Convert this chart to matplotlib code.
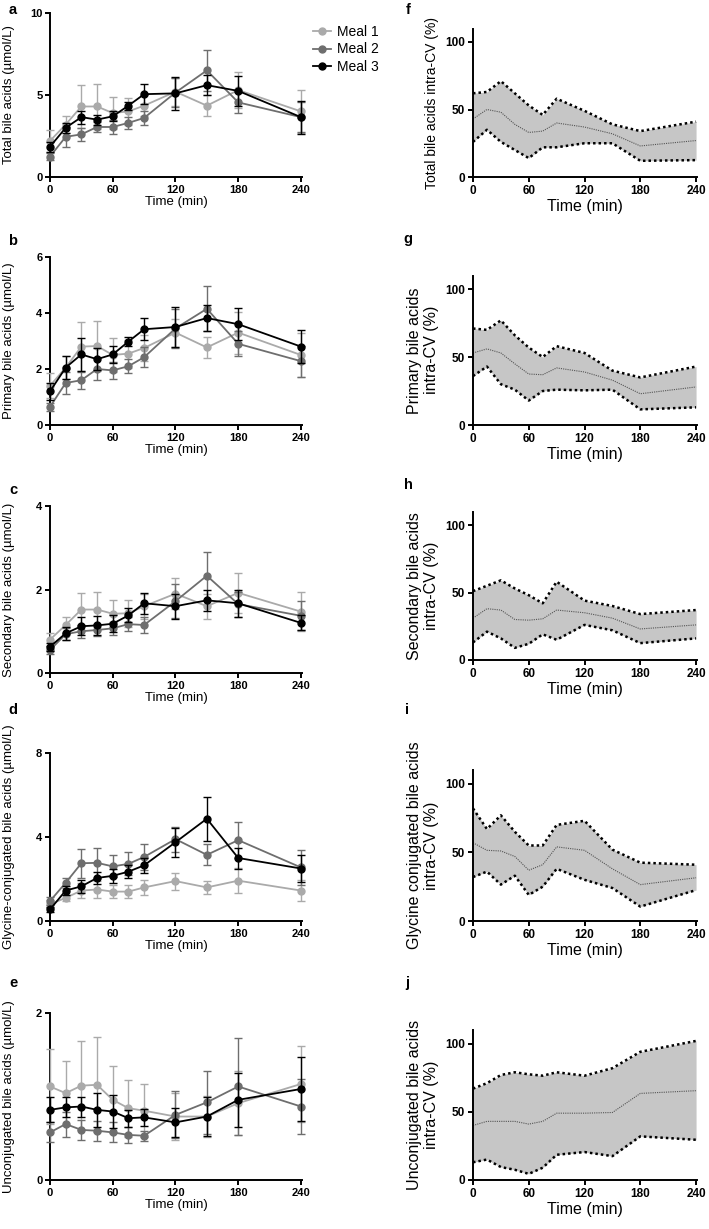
import matplotlib
matplotlib.use("Agg")
import matplotlib.pyplot as plt
from matplotlib.lines import Line2D

plt.rcParams['font.family'] = ['Liberation Sans', 'DejaVu Sans']

# ---------------- data ----------------
time = [0, 15, 30, 45, 60, 75, 90, 120, 150, 180, 240]
meal_names = ["Meal 1", "Meal 2", "Meal 3"]
meal_colors = ["#aaaaaa", "#6e6e6e", "#000000"]

total_m1 = [2.2, 3.2, 4.3, 4.3, 3.9, 4.0, 4.35, 5.2, 4.35, 5.3, 4.0]
total_m1_err = [0.65, 0.5, 1.3, 1.35, 0.95, 0.8, 0.65, 0.85, 0.65, 1.1, 1.3]
total_m2 = [1.25, 2.45, 2.6, 3.05, 3.05, 3.3, 3.6, 5.15, 6.5, 4.55, 3.65]
total_m2_err = [0.2, 0.6, 0.4, 0.3, 0.4, 0.35, 0.4, 0.9, 1.25, 0.65, 0.9]
total_m3 = [1.85, 3.0, 3.65, 3.5, 3.7, 4.35, 5.05, 5.1, 5.6, 5.25, 3.65]
total_m3_err = [0.3, 0.3, 0.4, 0.3, 0.3, 0.25, 0.6, 1.0, 0.6, 0.9, 1.0]

prim_m1 = [1.4, 2.05, 2.8, 2.82, 2.5, 2.55, 2.75, 3.3, 2.77, 3.3, 2.5]
prim_m1_err = [0.45, 0.4, 0.88, 0.88, 0.62, 0.5, 0.45, 0.5, 0.38, 0.75, 0.8]
prim_m2 = [0.65, 1.5, 1.6, 2.0, 1.95, 2.1, 2.42, 3.45, 4.15, 2.9, 2.28]
prim_m2_err = [0.15, 0.4, 0.3, 0.4, 0.3, 0.25, 0.35, 0.7, 0.8, 0.45, 0.55]
prim_m3 = [1.2, 2.05, 2.52, 2.35, 2.52, 2.98, 3.42, 3.5, 3.82, 3.6, 2.8]
prim_m3_err = [0.3, 0.4, 0.6, 0.4, 0.3, 0.15, 0.4, 0.72, 0.45, 0.57, 0.58]

sec_m1 = [0.8, 1.15, 1.52, 1.52, 1.42, 1.43, 1.6, 1.9, 1.6, 1.92, 1.47]
sec_m1_err = [0.15, 0.18, 0.4, 0.42, 0.32, 0.33, 0.3, 0.37, 0.3, 0.48, 0.47]
sec_m2 = [0.55, 0.93, 1.0, 1.03, 1.07, 1.17, 1.15, 1.72, 2.33, 1.65, 1.37]
sec_m2_err = [0.1, 0.15, 0.15, 0.15, 0.15, 0.17, 0.18, 0.4, 0.57, 0.3, 0.35]
sec_m3 = [0.63, 0.95, 1.12, 1.14, 1.18, 1.38, 1.67, 1.6, 1.74, 1.67, 1.2]
sec_m3_err = [0.1, 0.15, 0.22, 0.22, 0.2, 0.17, 0.25, 0.3, 0.25, 0.32, 0.18]

gly_m1 = [0.8, 1.1, 1.45, 1.5, 1.4, 1.4, 1.6, 1.9, 1.6, 1.92, 1.45]
gly_m1_err = [0.2, 0.15, 0.35, 0.4, 0.3, 0.3, 0.35, 0.4, 0.3, 0.6, 0.5]
gly_m2 = [0.95, 1.82, 2.75, 2.77, 2.6, 2.72, 3.05, 3.9, 3.15, 3.85, 2.55]
gly_m2_err = [0.2, 0.25, 0.7, 0.7, 0.52, 0.55, 0.6, 0.6, 0.5, 0.85, 0.85]
gly_m3 = [0.55, 1.45, 1.65, 2.05, 2.15, 2.35, 2.65, 3.75, 4.87, 3.0, 2.5]
gly_m3_err = [0.1, 0.2, 0.3, 0.3, 0.35, 0.3, 0.35, 0.7, 1.05, 0.5, 0.65]

unc_m1 = [1.12, 1.04, 1.13, 1.14, 0.96, 0.86, 0.83, 0.76, 0.76, 0.92, 1.15]
unc_m1_err = [0.45, 0.38, 0.53, 0.57, 0.4, 0.34, 0.32, 0.28, 0.25, 0.38, 0.45]
unc_m2 = [0.57, 0.67, 0.6, 0.59, 0.57, 0.54, 0.53, 0.78, 0.93, 1.12, 0.88]
unc_m2_err = [0.12, 0.15, 0.12, 0.12, 0.12, 0.1, 0.06, 0.28, 0.38, 0.58, 0.33]
unc_m3 = [0.84, 0.87, 0.88, 0.84, 0.82, 0.74, 0.75, 0.69, 0.76, 0.96, 1.09]
unc_m3_err = [0.15, 0.12, 0.12, 0.2, 0.2, 0.1, 0.1, 0.17, 0.23, 0.32, 0.38]

# intra-individual CV (%): upper bound, mean, lower bound
cv_total_upper = [62, 63, 71, 62, 53, 46, 58, 49, 39, 34, 41]
cv_total_mean = [43, 50, 48, 39, 33, 34, 40, 37, 32, 23, 27]
cv_total_lower = [26, 35, 26, 20, 14, 22, 22, 25, 25, 12, 12.5]

cv_prim_upper = [71, 70, 77, 66, 57, 50, 58, 53, 40, 35, 43]
cv_prim_mean = [53, 56, 53, 45, 37.5, 37, 42, 39, 33, 23, 28]
cv_prim_lower = [36, 43, 30, 26, 18, 25, 26, 25.5, 26, 11.5, 13]

cv_sec_upper = [51, 55, 59, 53, 48, 42, 58, 44, 40, 34, 37]
cv_sec_mean = [31, 38, 37, 30, 29.5, 30.5, 37, 35, 31, 23, 26]
cv_sec_lower = [13, 21, 16, 9, 12, 19, 15, 26, 22, 12.5, 16]

cv_gly_upper = [82, 67, 77, 65, 55, 55, 70, 73, 52, 42.5, 41]
cv_gly_mean = [57, 51.5, 51, 47, 37, 41, 54, 51.5, 38, 26.5, 31.5]
cv_gly_lower = [32, 36, 26.5, 33, 19, 25, 38, 30, 24, 10.5, 22.5]

cv_unc_upper = [67, 71, 77, 79, 77.5, 76.5, 79, 76.5, 82, 94, 102]
cv_unc_mean = [40, 43, 43, 43, 41, 43, 49, 49, 49.5, 63.5, 65.5]
cv_unc_lower = [13, 15, 9.5, 7.5, 4.5, 9, 18.5, 20.5, 17.5, 32, 29.5]

xticks = [0, 60, 120, 180, 240]

left_panels = [
    ("a", "Total bile acids (µmol/L)", [0, 5, 10],
     [(total_m1, total_m1_err), (total_m2, total_m2_err), (total_m3, total_m3_err)]),
    ("b", "Primary bile acids (µmol/L)", [0, 2, 4, 6],
     [(prim_m1, prim_m1_err), (prim_m2, prim_m2_err), (prim_m3, prim_m3_err)]),
    ("c", "Secondary bile acids (µmol/L)", [0, 2, 4],
     [(sec_m1, sec_m1_err), (sec_m2, sec_m2_err), (sec_m3, sec_m3_err)]),
    ("d", "Glycine-conjugated bile acids (µmol/L)", [0, 4, 8],
     [(gly_m1, gly_m1_err), (gly_m2, gly_m2_err), (gly_m3, gly_m3_err)]),
    ("e", "Unconjugated bile acids (µmol/L)", [0, 2],
     [(unc_m1, unc_m1_err), (unc_m2, unc_m2_err), (unc_m3, unc_m3_err)]),
]

right_panels = [
    ("f", "Total bile acids intra-CV (%)", cv_total_upper, cv_total_mean, cv_total_lower),
    ("g", "Primary bile acids\nintra-CV (%)", cv_prim_upper, cv_prim_mean, cv_prim_lower),
    ("h", "Secondary bile acids\nintra-CV (%)", cv_sec_upper, cv_sec_mean, cv_sec_lower),
    ("i", "Glycine conjugated bile acids\nintra-CV (%)", cv_gly_upper, cv_gly_mean, cv_gly_lower),
    ("j", "Unconjugated bile acids\nintra-CV (%)", cv_unc_upper, cv_unc_mean, cv_unc_lower),
]

# ---------------- layout (pixels) ----------------
W, H = 709, 1229
fig = plt.figure(figsize=(W / 100, H / 100), dpi=100)

left_x0, left_x1 = 50, 302
left_rows = [(13, 177), (257, 425), (506, 673), (753, 921), (1013, 1180)]
right_x0, right_x1 = 473, 697
right_rows = [(28.5, 177), (275.5, 425), (511.5, 660), (770, 921), (1030, 1180)]
left_letters = [(13, 10), (13, 241), (13, 490), (13, 710), (13, 983)]
right_letters = [(408, 10), (408, 239), (408, 485), (407, 710), (407, 983)]


def px_axes(x0, x1, top, bottom):
    return fig.add_axes([x0 / W, 1 - bottom / H, (x1 - x0) / W, (bottom - top) / H])


def style_axes(ax, tick_fs):
    for s in ["top", "right"]:
        ax.spines[s].set_visible(False)
    for s in ["left", "bottom"]:
        ax.spines[s].set_linewidth(1.4)
    ax.tick_params(direction="out", length=3.5, width=1.4, labelsize=tick_fs, pad=2)
    for lab in ax.get_xticklabels() + ax.get_yticklabels():
        lab.set_fontweight("bold")


for (letter, ylab, yticks, series), (top, bot), (lx, ly) in zip(left_panels, left_rows, left_letters):
    ax = px_axes(left_x0, left_x1, top, bot)
    for z, ((vals, errs), col) in enumerate(zip(series, meal_colors)):
        eb = ax.errorbar(time, vals, yerr=errs, color=col, ecolor=col, marker="o",
                         markersize=5, linewidth=1.3, elinewidth=1.0, capsize=3,
                         capthick=1.0, zorder=3 + z)
        for art in eb.lines[2] + eb.lines[1] + (eb.lines[0],):
            art.set_clip_on(False)
    ax.set_xlim(0, 241)
    ax.set_ylim(yticks[0], yticks[-1])
    ax.set_xticks(xticks)
    ax.set_yticks(yticks)
    ax.set_xlabel("Time (min)", fontsize=9.5, labelpad=1)
    ax.set_ylabel(ylab, fontsize=9.5)
    ax.yaxis.set_label_coords(-0.139, 0.5)
    style_axes(ax, 8)
    fig.text(lx / W, 1 - ly / H, letter, fontsize=10.5, fontweight="bold", ha="center", va="center")

    if letter == "a":
        handles = [Line2D([0], [0], color=c, marker="o", markersize=5, linewidth=1.3)
                   for c in meal_colors]
        fig.legend(handles, meal_names, loc="upper left",
                   bbox_to_anchor=(313 / W, 1 - 25 / H), frameon=False,
                   fontsize=10, handlelength=1.3, handletextpad=0.4,
                   labelspacing=0.25, borderaxespad=0, borderpad=0)

for (letter, ylab, up, mean, low), (top, bot), (lx, ly) in zip(right_panels, right_rows, right_letters):
    ax = px_axes(right_x0, right_x1, top, bot)
    ax.fill_between(time, low, up, color="#c6c6c6", linewidth=0, zorder=1)
    ax.plot(time, up, color="black", linestyle=(0, (1, 1.2)), linewidth=1.8, zorder=3, clip_on=False)
    ax.plot(time, low, color="black", linestyle=(0, (1, 1.2)), linewidth=1.8, zorder=3, clip_on=False)
    ax.plot(time, mean, color="#555555", linestyle=(0, (1, 1)), linewidth=0.8, zorder=2)
    ax.set_xlim(0, 241)
    ax.set_ylim(0, 110)
    ax.set_xticks(xticks)
    ax.set_yticks([0, 50, 100])
    fs = 10 if letter == "f" else 11.5
    ax.set_xlabel("Time (min)", fontsize=11.5, labelpad=2)
    ax.set_ylabel(ylab, fontsize=fs, linespacing=1.15)
    ax.yaxis.set_label_coords(-0.152, 0.5)
    style_axes(ax, 8.5)
    fig.text(lx / W, 1 - ly / H, letter, fontsize=10.5, fontweight="bold", ha="center", va="center")

fig.savefig("out.png", dpi=100)
